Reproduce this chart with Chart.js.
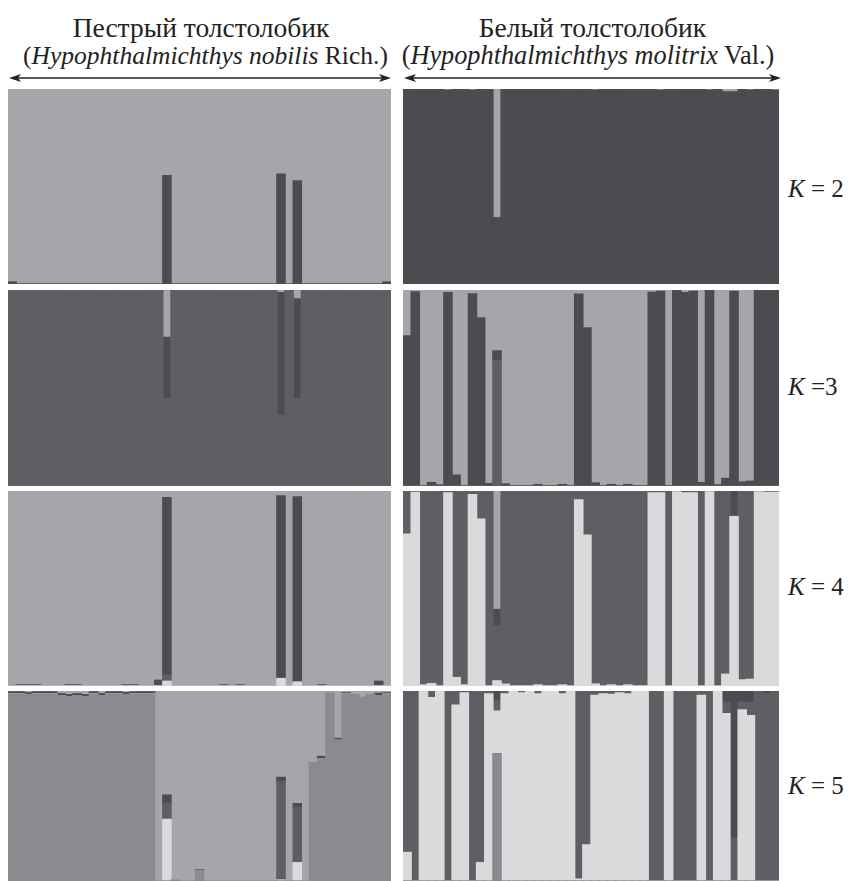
<!DOCTYPE html>
<html><head><meta charset="utf-8">
<script src="https://cdn.jsdelivr.net/npm/chart.js@4"></script>
<style>
body{margin:0;background:#fff;width:850px;height:881px;overflow:hidden;position:relative;font-family:'Liberation Serif','Times New Roman',serif;color:#222;}
.t{position:absolute;white-space:nowrap;line-height:1;transform:translateX(-50%);font-family:'Liberation Serif',serif;}
.k{position:absolute;white-space:nowrap;font-size:25px;line-height:1;font-family:'Liberation Serif',serif;}
canvas{position:absolute;}
svg{position:absolute;left:0;top:0;}
</style></head><body>
<div class="t" style="left:201px;top:14px;font-size:27.5px">Пестрый толстолобик</div>
<div class="t" style="left:205.5px;top:43px;font-size:25.5px">(<i>Hypophthalmichthys nobilis</i> Rich.)</div>
<div class="t" style="left:592.5px;top:14px;font-size:27.5px">Белый толстолобик</div>
<div class="t" style="left:588px;top:43px;font-size:26.3px">(<i>Hypophthalmichthys molitrix</i> Val.)</div>
<div class="k" style="left:788px;top:176px"><i>K</i> = 2</div>
<div class="k" style="left:788px;top:374px"><i>K</i> =3</div>
<div class="k" style="left:788px;top:574px"><i>K</i> = 4</div>
<div class="k" style="left:788px;top:773px"><i>K</i> = 5</div>
<svg width="850" height="100">
  <line x1="16" y1="78" x2="384" y2="78" stroke="#222" stroke-width="1.6"/>
  <polygon points="9,78 21,74 18,78 21,82" fill="#222"/>
  <polygon points="391,78 379,74 382,78 379,82" fill="#222"/>
  <line x1="411" y1="78" x2="774" y2="78" stroke="#222" stroke-width="1.6"/>
  <polygon points="404,78 416,74 413,78 416,82" fill="#222"/>
  <polygon points="781,78 769,74 772,78 769,82" fill="#222"/>
</svg>
<script>
// ---- Bighead carp (left), 47 individuals ----
const L2_c1 = [0.01,0,0,0,0,0,0,0,0,0, 0,0,0,0,0,0,0,0,0,0.556, 0,0,0,0,0,0,0,0,0,0, 0,0,0,0.563,0,0.529,0,0,0,0, 0,0,0,0,0,0,0.01];
const L2_c2 = [0.99,1,1,1,1,1,1,1,1,1, 1,1,1,1,1,1,1,1,1,0.444, 1,1,1,1,1,1,1,1,1,1, 1,1,1,0.437,1,0.471,1,1,1,1, 1,1,1,1,1,1,0.99];

const L3_c1 = [1,1,1,1,1,1,1,0.994,0.994,1, 1,0.994,0.994,1,0.994,0.994,0.994,1,1,0.446, 1,1,1,1,1,1,0.994,1,0.994,0.994, 1,1,1,0.361,1,0.446,1,1,0.994,1, 1,0.994,0.994,1,1,0.994,1];
const L3_c2 = [0,0,0,0,0,0,0,0,0,0, 0,0,0,0,0,0,0,0,0,0.312, 0,0,0,0,0,0,0,0,0,0, 0,0,0,0.625,0,0.508,0,0,0,0, 0,0,0,0,0,0,0];
const L3_c3 = [0,0,0,0,0,0,0,0.006,0.006,0, 0,0.006,0.006,0,0.006,0.006,0.006,0,0,0.242, 0,0,0,0,0,0,0.006,0,0.006,0.006, 0,0,0,0.014,0,0.046,0,0,0.006,0, 0,0.006,0.006,0,0,0.006,0];

const L4_c1 = [0,0,0,0,0,0,0,0,0,0, 0,0,0,0,0,0,0,0,0,0.024, 0,0,0,0,0,0,0,0,0,0, 0,0,0,0.038,0,0.02,0,0,0,0, 0,0,0,0,0,0,0];
const L4_c2 = [0,0.005,0.005,0.005,0,0,0,0.005,0.005,0, 0,0,0,0,0.005,0.005,0,0,0,0.031, 0,0,0,0,0,0,0.005,0,0.005,0, 0,0,0,0,0,0,0,0,0.005,0, 0,0,0,0,0,0,0];
const L4_c3 = [0,0,0,0,0,0,0,0,0,0, 0,0,0,0,0,0,0,0,0.029,0.911, 0,0,0,0,0,0,0,0,0,0, 0,0,0,0.937,0,0.95,0,0,0,0, 0,0,0,0,0,0.024,0];
const L4_c4 = [1,0.995,0.995,0.995,1,1,1,0.995,0.995,1, 1,1,1,1,0.995,0.995,1,1,0.971,0.034, 1,1,1,1,1,1,0.995,1,0.995,1, 1,1,1,0.025,1,0.03,1,1,0.995,1, 1,1,1,1,1,0.976,1];

const L5_c1 = [0.985,0.985,0.98,0.985,0.985,0.985,0.975,0.97,0.975,0.97, 0.985,0.975,0.985,0.985,0.98,0.985,0.985,0.985,0,0, 0.005,0,0,0.054,0,0,0,0,0,0, 0,0,0,0,0,0,0,0.622,0.641,0.99, 0.74,0.985,0.98,0.965,0.98,0.975,0.985];
const L5_c2 = [0,0,0,0,0,0,0,0,0,0, 0,0,0,0,0,0,0,0,0,0.324, 0,0,0,0,0,0,0,0,0,0, 0,0,0,0.005,0,0.096,0,0,0,0, 0,0,0,0,0,0,0];
const L5_c3 = [0,0,0,0,0,0,0,0,0,0, 0,0,0,0,0,0,0,0,0,0.084, 0,0,0,0,0,0,0,0,0,0, 0,0,0,0.517,0,0.29,0,0,0,0, 0,0,0,0,0,0,0];
const L5_c4 = [0.01,0.01,0.01,0.01,0.01,0.01,0.01,0.01,0.01,0.01, 0.01,0.01,0.01,0.01,0.01,0.01,0.01,0.01,0,0.044, 0,0,0,0.004,0,0,0,0,0,0, 0,0,0,0.023,0,0.021,0,0,0.014,0, 0.01,0.005,0,0,0,0.012,0.005];
const L5_c5 = [0.005,0.005,0.01,0.005,0.005,0.005,0.015,0.02,0.015,0.02, 0.005,0.015,0.005,0.005,0.01,0.005,0.005,0.005,1,0.548, 0.995,1,1,0.942,1,1,1,1,1,1, 1,1,1,0.455,1,0.592,1,0.378,0.345,0.01, 0.25,0.01,0.02,0.035,0.02,0.013,0.01];

// ---- Silver carp (right), 46 individuals ----
const R2_c1 = [1,1,1,1,1,0.994,1,1,0.994,1, 1,0.34,1,1,1,1,1,1,1,1, 1,1,1,0.994,1,1,1,1,1,1, 1,0.994,1,1,1,1,1,0.994,1,0.985, 0.985,1,0.994,1,1,0.994];
const R2_c2 = [0,0,0,0,0,0.006,0,0,0.006,0, 0,0.66,0,0,0,0,0,0,0,0, 0,0,0,0.006,0,0,0,0,0,0, 0,0.006,0,0,0,0,0,0.006,0,0.015, 0.015,0,0.006,0,0,0.006];

const R3_c1 = [0,0,0,0,0,0,0,0,0,0, 0,0.641,0,0,0,0,0,0,0,0, 0,0,0,0,0,0,0,0,0,0, 0,0,0,0,0,0,0,0,0,0, 0,0,0,0,0,0];
const R3_c2 = [0.766,0.99,0,0.017,0.005,0.986,0.055,0,0.98,0.858, 0.012,0.048,0.01,0,0,0,0.007,0,0,0.007, 0,0.978,0.807,0.015,0,0.007,0,0.007,0,0, 0.988,0.993,0,0.998,0.986,0.993,0.017,0.998,0.005,0.038, 0.993,0.02,0.024,0.997,0.998,0.997];
const R3_c3 = [0.234,0.01,1,0.983,0.995,0.014,0.945,1,0.02,0.142, 0.988,0.311,0.99,1,1,1,0.993,1,1,0.993, 1,0.022,0.193,0.985,1,0.993,1,0.993,1,1, 0.012,0.007,1,0.002,0.014,0.007,0.983,0.002,0.995,0.962, 0.007,0.98,0.976,0.003,0.002,0.003];

const R4_c1 = [0.778,0.993,0.005,0.012,0,0.99,0.043,0.005,0.981,0.856, 0,0.026,0.009,0,0,0,0.005,0,0,0.005, 0,0.954,0.773,0.01,0,0.005,0,0.005,0,0, 0.99,0.99,0,0.995,0.99,0.99,0,0.995,0,0.06, 0.868,0.031,0.034,0.995,0.993,0.993];
const R4_c2 = [0.222,0.007,0.995,0.988,1,0.01,0.957,0.995,0.019,0.144, 1,0.28,0.991,1,1,1,0.995,1,1,0.995, 1,0.046,0.227,0.99,1,0.995,1,0.995,1,1, 0.01,0.01,1,0.005,0.01,0.01,1,0.005,1,0.94, 0.008,0.969,0.966,0.005,0.007,0.007];
const R4_c3 = [0,0,0,0,0,0,0,0,0,0, 0,0.086,0,0,0,0,0,0,0,0, 0,0,0,0,0,0,0,0,0,0, 0,0,0,0,0,0,0,0,0,0, 0.124,0,0,0,0,0];
const R4_c4 = [0,0,0,0,0,0,0,0,0,0, 0,0.608,0,0,0,0,0,0,0,0, 0,0,0,0,0,0,0,0,0,0, 0,0,0,0,0,0,0,0,0,0, 0,0,0,0,0,0];

const R5_c1 = [0,0,0,0,0,0,0,0,0,0, 0,0.67,0,0,0,0,0,0,0,0, 0,0,0,0,0,0,0,0,0,0, 0,0,0,0,0,0,0,0,0,0, 0,0,0,0,0,0];
const R5_c2 = [0.15,0,1,0.965,1,0,0.925,0.99,0,0.096, 0.985,0.224,0.985,1,0.99,1,0.985,1,1,0.985, 1,0.01,0.19,0.977,0.985,0.982,0.99,0.985,1,1, 0,0,1,0,0,0,0.977,0,1,0.88, 0,0.9,0.87,0,0,0];
const R5_c3 = [0.85,1,0,0.035,0,1,0.075,0.01,1,0.904, 0.015,0.053,0.015,0,0.01,0,0.015,0,0,0.015, 0,0.99,0.81,0.023,0.015,0.018,0.01,0.015,0,0, 1,1,0,1,1,1,0.023,1,0,0.06, 0.224,0.04,0.07,1,0.986,1];
const R5_c4 = [0,0,0,0,0,0,0,0,0,0, 0,0.053,0,0,0,0,0,0,0,0, 0,0,0,0,0,0,0,0,0,0, 0,0,0,0,0,0,0,0,0,0.06, 0.776,0.06,0.06,0,0.014,0];

// ---- cluster colours ----
const LIGHT = '#a5a6a9', DARK = '#4b4c4f', MID = '#5e5f62', PALE = '#d9dadc', GREY = '#8a8b8e';

function panel(x, y, w, h, series, colors) {
  const c = document.createElement('canvas');
  c.width = w; c.height = h;
  c.style.left = x + 'px'; c.style.top = y + 'px';
  document.body.appendChild(c);
  const n = series[0].length;
  new Chart(c, {
    type: 'bar',
    data: {
      labels: Array.from({length: n}, (_, i) => String(i + 1)),
      datasets: series.map((d, k) => ({
        data: d, backgroundColor: colors[k], borderWidth: 0,
        barPercentage: 1, categoryPercentage: 1, inflateAmount: 0.7
      }))
    },
    options: {
      responsive: false, animation: false, events: [],
      layout: {padding: 0},
      plugins: {legend: {display: false}, tooltip: {enabled: false}},
      scales: {
        x: {display: false, stacked: true},
        y: {display: false, stacked: true, min: 0, max: 1}
      }
    }
  });
}

const LX = 8, LW = 383, RX = 403, RW = 376;
const rows = [[89, 195], [290, 196], [491, 195], [691, 190]];

panel(LX, rows[0][0], LW, rows[0][1], [L2_c1, L2_c2], [DARK, LIGHT]);
panel(LX, rows[1][0], LW, rows[1][1], [L3_c1, L3_c2, L3_c3], [MID, DARK, LIGHT]);
panel(LX, rows[2][0], LW, rows[2][1], [L4_c1, L4_c2, L4_c3, L4_c4], [PALE, MID, DARK, LIGHT]);
panel(LX, rows[3][0], LW, rows[3][1], [L5_c1, L5_c2, L5_c3, L5_c4, L5_c5], [GREY, PALE, MID, DARK, LIGHT]);

panel(RX, rows[0][0], RW, rows[0][1], [R2_c1, R2_c2], [DARK, LIGHT]);
panel(RX, rows[1][0], RW, rows[1][1], [R3_c1, R3_c2, R3_c3], [MID, DARK, LIGHT]);
panel(RX, rows[2][0], RW, rows[2][1], [R4_c1, R4_c2, R4_c3, R4_c4], [PALE, MID, DARK, LIGHT]);
panel(RX, rows[3][0], RW, rows[3][1], [R5_c1, R5_c2, R5_c3, R5_c4], [GREY, PALE, MID, DARK]);
</script>
</body></html>
